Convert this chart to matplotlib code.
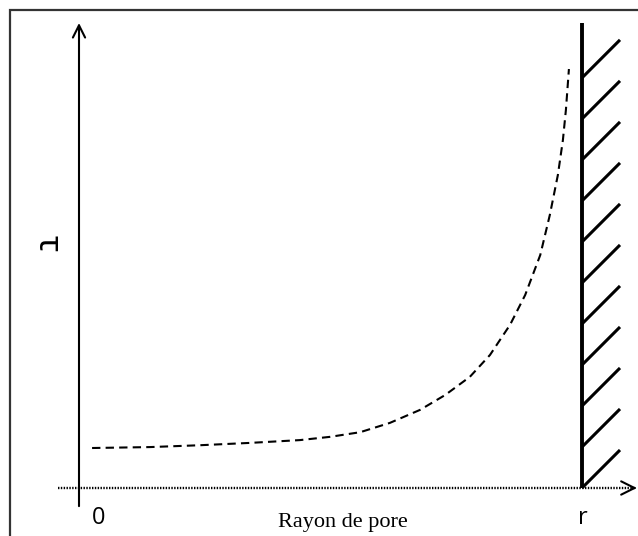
import numpy as np
import matplotlib
matplotlib.use("Agg")
import matplotlib.pyplot as plt
from matplotlib.patches import Rectangle

# shear stress profile across the pore (radius normalised to the wall r = 1)
radius = [0.026, 0.141, 0.241, 0.340, 0.439, 0.499, 0.559, 0.618, 0.678, 0.728,
          0.777, 0.817, 0.857, 0.887, 0.917, 0.936, 0.952, 0.962, 0.968, 0.974]
tau = [0.086, 0.088, 0.092, 0.097, 0.103, 0.110, 0.120, 0.140, 0.168, 0.200,
       0.239, 0.286, 0.351, 0.415, 0.501, 0.587, 0.673, 0.748, 0.813, 0.901]

x_ticks = [0.0, 1.0]
x_tick_labels = ["0", "r"]
x_label = "Rayon de pore"
y_label = "\u03c4"

W, H = 638, 536
fig = plt.figure(figsize=(W / 100, H / 100), dpi=100)
ax = fig.add_axes([0, 0, 1, 1])
# one data unit = 503 px along x, 465 px along y; origin at the axes crossing
ax.set_xlim(-79 / 503, (W - 79) / 503)
ax.set_ylim(-(H - 488) / 465, 488 / 465)
ax.axis("off")

# frame (only top and left edges fall inside the canvas)
fig.add_artist(Rectangle((10 / W, -1), 2, 2 - 10 / H, transform=fig.transFigure,
                         fill=False, edgecolor="#333333", lw=1.6))

# tau axis with open arrow head
ax.annotate("", xy=(0, 1.0), xytext=(0, -0.039),
            arrowprops=dict(arrowstyle="->", lw=1.5, color="black",
                            mutation_scale=22, shrinkA=0, shrinkB=0))

# radius axis: dotted line + open arrow head
ax.plot([-0.042, 1.105], [0, 0], color="black", lw=1.7,
        linestyle=(0, (0.6, 0.6)), solid_capstyle="butt")
ax.annotate("", xy=(1.109, 0), xytext=(1.100, 0),
            arrowprops=dict(arrowstyle="->", lw=1.5, color="black",
                            mutation_scale=24, shrinkA=0, shrinkB=0))

# pore wall with hatching
ax.plot([1, 1], [0, 1.0], color="black", lw=2.8, solid_capstyle="butt")
for yk in np.linspace(0, 0.882, 11):
    ax.plot([1, 1 + 38 / 503], [yk, yk + 38 / 465], color="black", lw=2.2,
            solid_capstyle="butt")

# stress profile
ax.plot(radius, tau, color="black", lw=1.5, linestyle=(0, (4, 2.5)))

# labels
for xt, lab in zip(x_ticks, x_tick_labels):
    ax.text(xt + (20 / 503 if xt == 0 else 0.002), -30 / 465, lab,
            ha="center", va="center", fontsize=17, family="Open Sans")
ax.text(0.525, -34 / 465, x_label, ha="center", va="center",
        fontsize=16, family="Liberation Serif")
ax.text(-32 / 503, 245 / 465, y_label, ha="center", va="center",
        fontsize=24, rotation=-90, fontweight="bold",
        family=["Noto Sans", "DejaVu Sans"])

fig.savefig("out.png", dpi=100)
